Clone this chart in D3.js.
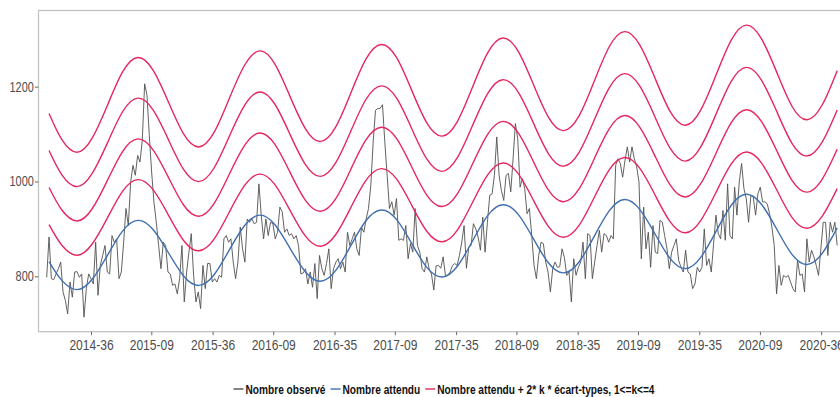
<!DOCTYPE html>
<html>
<head>
<meta charset="utf-8">
<script src="https://cdn.jsdelivr.net/npm/d3@7"></script>
<style>
  body{margin:0;background:#fff;}
  svg{display:block;}
  text{font-family:"Liberation Sans",Arial,Helvetica,sans-serif;}
</style>
</head>
<body>
<svg id="chart" width="840" height="397"></svg>
<script>
// semaine 0 = 2014-W17
const debut = "2014-04-21";

// nombre observé, une valeur par semaine
const observe = [
  798,883,795,793,805,816,830,767,749,721,788,756,809,810,798,805,714,774,805,795,
  784,872,760,823,844,865,809,805,886,872,879,795,809,872,943,907,999,1034,1013,1055,
  1041,1087,1206,1182,1097,1020,956,914,865,816,872,865,809,805,781,784,763,795,865,746,
  809,851,890,802,746,767,732,823,774,827,827,788,795,788,802,798,879,886,872,879,
  830,795,830,904,858,830,921,914,921,911,914,995,929,879,921,886,914,911,879,893,
  946,936,893,900,886,890,879,886,865,805,807,816,784,809,777,827,753,844,816,802,
  827,858,774,816,830,837,816,830,809,893,865,879,893,858,844,904,893,921,943,992,
  1083,1150,1154,1154,1162,1083,1013,943,957,929,964,876,879,876,907,837,869,851,943,865,
  851,816,809,841,816,805,771,822,823,817,841,802,802,809,823,827,823,844,872,907,
  817,862,865,911,900,883,855,925,851,914,971,974,1013,1094,1013,981,960,1013,1017,978,
  1048,1122,1090,988,1006,985,932,943,886,823,795,844,872,869,830,809,767,816,830,819,
  820,858,840,802,809,746,837,802,819,830,872,795,890,886,795,830,865,897,851,890,
  886,872,886,879,1034,1048,1038,1009,1045,1073,1041,1073,1048,1031,999,837,946,858,893,819,
  907,851,848,918,914,886,858,816,851,865,879,834,819,809,855,809,805,774,784,819,
  809,819,900,823,837,809,869,929,890,879,939,876,995,886,879,988,929,999,1038,985,
  964,914,971,967,929,974,988,957,957,953,932,904,865,763,823,781,802,798,802,788,
  774,767,834,802,805,767,879,830,855,841,823,802,858,914,914,844,914,893,914,865
];

// nombre attendu (lu aux semaines ci-dessous) et 2 * écart-type
const semainesAttendu = [
  1,6.5,13,19.5,26.1,32.6,39.1,45.6,52.2,58.7,65.2,71.7,78.2,84.8,91.3,97.8,104.3,110.9,
  117.4,123.9,130.4,136.9,143.5,150,156.5,163,169.6,176.1,182.6,189.1,195.6,202.2,208.7,
  215.2,221.7,228.3,234.8,241.3,247.8,254.3,260.9,267.4,273.9,280.4,287,293.5,300,306.5,
  313.1,319.6,326.1,332.6,339
];
const attendu = [
  831.2,791.4,772.0,793.7,844.7,895.9,918.0,898.6,849.7,800.6,780.8,802.9,854.6,906.6,
  929.0,909.3,859.6,809.7,789.7,812.0,864.6,917.3,940.0,920.0,869.5,818.9,798.5,821.2,
  874.5,928.0,951.0,930.6,879.4,828.0,807.3,830.3,884.4,938.6,962.0,941.3,889.3,837.2,
  816.2,839.5,894.3,949.3,973.0,952.0,899.3,846.3,825.0,848.6,902.1
];
const ecart2 = [
  78.0,74.2,72.4,74.4,79.1,83.9,85.9,84.1,79.5,74.9,73.0,75.0,79.8,84.5,86.6,84.7,80.1,
  75.5,73.7,75.7,80.4,85.2,87.2,85.4,80.8,76.2,74.3,76.3,81.1,85.8,87.9,86.0,81.4,76.8,
  75.0,77.0,81.7,86.5,88.5,86.7,82.1,77.5,75.6,77.6,82.4,87.1,89.2,87.3,82.7,78.1,76.3,
  78.3,82.9
];
const kValues = [1,2,3,4];

const tickDates = ["2014-09-01","2015-03-01","2015-09-01","2016-03-01","2016-09-01","2017-03-01",
  "2017-09-01","2018-03-01","2018-09-01","2019-03-01","2019-09-01","2020-03-01","2020-09-01"];
const tickLabels = ["2014-36","2015-09","2015-36","2016-09","2016-35","2017-09","2017-35",
  "2018-09","2018-35","2019-09","2019-35","2020-09","2020-36"];
const yTicks = [800,1000,1200];

const legendLabels = ["Nombre observé","Nombre attendu","Nombre attendu + 2* k * écart-types, 1<=k<=4"];
const colors = {obs:"#505050", att:"#3f6fb0", sd:"#e6275f"};

const panel = {left:38.5, top:10.5, bottom:331.7, right:850};

const parse = d3.utcParse("%Y-%m-%d");
const t0 = parse(debut);
const weekDate = w => new Date(t0.getTime() + w*7*864e5);

const obsData = observe.map((v,i)=>({d:weekDate(i), v}));
const attData = semainesAttendu.map((w,i)=>({d:weekDate(w), v:attendu[i], s:ecart2[i]}));

const x = d3.scaleUtc()
  .domain([obsData[0].d, obsData[obsData.length-1].d])
  .range([46.7, 837.2]);

const allVals = observe.concat(attData.map(e=>e.v + 4*e.s));
const [lo,hi] = d3.extent(allVals);
const pad = (hi-lo)*0.05;
const y = d3.scaleLinear().domain([lo-pad, hi+pad]).range([panel.bottom, panel.top]);

// condensed look: squeeze text horizontally, returns new width
function narrow(sel, f){
  let w = 0;
  sel.each(function(){
    w = this.getComputedTextLength()*f;
    d3.select(this).attr("textLength", w).attr("lengthAdjust","spacingAndGlyphs");
  });
  return w;
}

const svg = d3.select("#chart");

svg.append("defs").append("clipPath").attr("id","clip")
  .append("rect").attr("x",panel.left).attr("y",panel.top)
  .attr("width",panel.right-panel.left).attr("height",panel.bottom-panel.top);

const plot = svg.append("g").attr("clip-path","url(#clip)");

const lineObs = d3.line().x(e=>x(e.d)).y(e=>y(e.v));
plot.append("path").datum(obsData).attr("d",lineObs)
  .attr("fill","none").attr("stroke",colors.obs).attr("stroke-width",0.9).attr("stroke-linejoin","round");

const lineAtt = d3.line().curve(d3.curveNatural).x(e=>x(e.d)).y(e=>y(e.v));
plot.append("path").datum(attData).attr("d",lineAtt)
  .attr("fill","none").attr("stroke",colors.att).attr("stroke-width",1.4);

kValues.forEach(k=>{
  const lineSd = d3.line().curve(d3.curveNatural).x(e=>x(e.d)).y(e=>y(e.v + k*e.s));
  plot.append("path").datum(attData).attr("d",lineSd)
    .attr("fill","none").attr("stroke",colors.sd).attr("stroke-width",1.4);
});

// panel border
svg.append("rect").attr("x",panel.left).attr("y",panel.top)
  .attr("width",panel.right-panel.left).attr("height",panel.bottom-panel.top)
  .attr("fill","none").attr("stroke","#c4c4c4").attr("stroke-width",1.3);

const yAxis = svg.append("g").attr("transform",`translate(${panel.left},0)`)
  .call(d3.axisLeft(y).tickValues(yTicks).tickFormat(d3.format("d")).tickSize(3.5).tickPadding(1.2));
const xAxis = svg.append("g").attr("transform",`translate(0,${panel.bottom})`)
  .call(d3.axisBottom(x).tickValues(tickDates.map(parse))
    .tickFormat((d,i)=>tickLabels[i]).tickSize(3.5).tickPadding(4.4));

[yAxis,xAxis].forEach(g=>{
  g.select(".domain").remove();
  g.selectAll(".tick line").attr("stroke","#6a6a6a");
  g.selectAll(".tick text").attr("fill","#4d4d4d").attr("font-size","14px").attr("font-family",null);
});
narrow(yAxis.selectAll(".tick text"), 0.78);
narrow(xAxis.selectAll(".tick text"), 0.86);

// legend
const leg = svg.append("g");
const legColors = [colors.obs, colors.att, colors.sd];
let lx = 0;
legendLabels.forEach((lab,i)=>{
  const g = leg.append("g").attr("transform",`translate(${lx},0)`);
  g.append("line").attr("x1",0).attr("x2",10).attr("y1",0).attr("y2",0)
    .attr("stroke",legColors[i]).attr("stroke-width",1.4);
  const t = g.append("text").attr("x",12).attr("y",4.8).attr("font-size","13px")
    .attr("font-weight","bold").attr("fill","#111").text(lab);
  lx += 12 + narrow(t, 0.78) + 5;
});
lx -= 5;
leg.attr("transform",`translate(${444 - lx/2},389)`);
</script>
</body>
</html>
